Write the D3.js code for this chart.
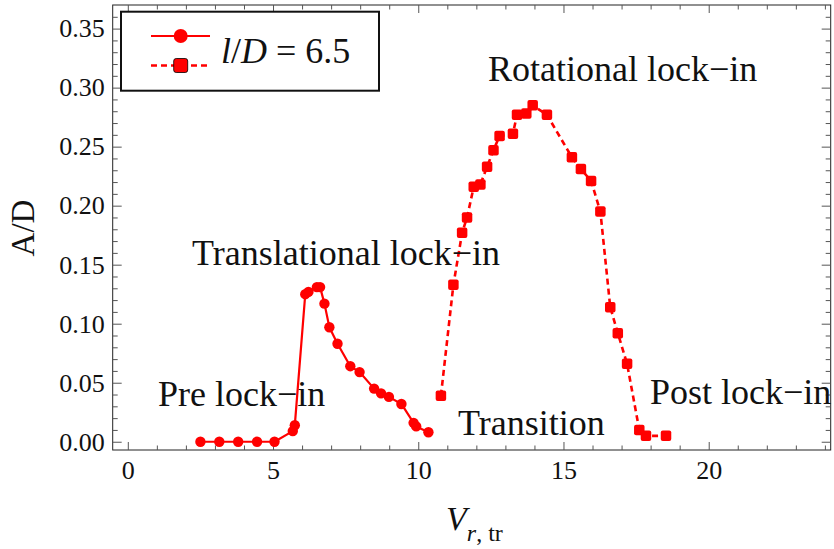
<!DOCTYPE html>
<html>
<head>
<meta charset="utf-8">
<script src="https://cdn.jsdelivr.net/npm/d3@7"></script>
<style>
  html, body { margin: 0; padding: 0; background: #fff; }
  svg { display: block; font-family: "Liberation Serif", "Times New Roman", serif; }
</style>
</head>
<body>
<svg id="chart" width="834" height="549"></svg>
<script>
// Amplitude response A/D versus reduced velocity, l/D = 6.5
// Translational branch (solid, circles)
const transX = [2.5, 3.15, 3.8, 4.45, 5.05, 5.68, 5.75, 6.11, 6.22, 6.51, 6.62, 6.77, 6.94,
                7.22, 7.66, 7.98, 8.48, 8.72, 8.99, 9.42, 9.84, 9.93, 10.35];
const transY = [0.0, 0.0, 0.0, 0.0, 0.0, 0.009, 0.014, 0.125, 0.127, 0.131, 0.131, 0.117, 0.097,
                0.083, 0.064, 0.059, 0.045, 0.041, 0.038, 0.032, 0.016, 0.013, 0.008];
// Rotational branch (dashed, squares)
const rotX = [10.78, 11.21, 11.51, 11.68, 11.91, 12.14, 12.37, 12.59, 12.80, 13.26, 13.40, 13.72,
              13.94, 14.43, 15.29, 15.60, 15.95, 16.27, 16.61, 16.87, 17.19, 17.61, 17.84, 18.53];
const rotY = [0.039, 0.133, 0.177, 0.190, 0.216, 0.218, 0.233, 0.247, 0.259, 0.261, 0.277, 0.278,
              0.285, 0.277, 0.241, 0.231, 0.221, 0.195, 0.114, 0.092, 0.066, 0.010, 0.005, 0.005];

const xTicks = [0, 5, 10, 15, 20];
const yTicks = [0.00, 0.05, 0.10, 0.15, 0.20, 0.25, 0.30, 0.35];
const regimeLabels = [
  { text: "Pre lock\u2212in", x: 158, y: 406 },
  { text: "Translational lock\u2212in", x: 192, y: 265 },
  { text: "Rotational lock\u2212in", x: 488, y: 81 },
  { text: "Transition", x: 458, y: 435 },
  { text: "Post lock\u2212in", x: 650, y: 404 }
];

const svg = d3.select("#chart");
const plotLeft = 112.7, plotRight = 830.7, plotTop = 5, plotBottom = 450;

const x = d3.scaleLinear().domain([-0.52, 24.2]).range([plotLeft, plotRight]);
const y = d3.scaleLinear().domain([-0.007, 0.37]).range([plotBottom, plotTop]);

const red = "#ff0000";
const tickColor = "#555";

// Frame
svg.append("rect")
  .attr("x", plotLeft).attr("y", plotTop)
  .attr("width", plotRight - plotLeft).attr("height", plotBottom - plotTop)
  .attr("fill", "none").attr("stroke", "#222").attr("stroke-width", 1);

const xMinor = d3.range(0, 25, 1).filter(v => !xTicks.includes(v));
const yMinor = d3.range(0, 37, 1).map(v => v / 100).filter(v => !yTicks.some(t => Math.abs(t - v) < 1e-9));

function styleAxis(g) {
  g.select(".domain").remove();
  g.selectAll(".tick line").attr("stroke", tickColor).attr("stroke-width", 1);
  g.selectAll(".tick text").attr("font-size", 26).attr("fill", "#111")
    .attr("font-family", "Liberation Serif, Times New Roman, serif");
}

// Bottom axis (labelled) and minor ticks
svg.append("g").attr("transform", `translate(0,${plotBottom})`)
  .call(d3.axisBottom(x).tickValues(xTicks).tickSize(-8).tickPadding(11).tickFormat(d3.format("d")))
  .call(styleAxis);
svg.append("g").attr("transform", `translate(0,${plotBottom})`)
  .call(d3.axisBottom(x).tickValues(xMinor).tickSize(-4.5).tickFormat(""))
  .call(styleAxis);
// Top mirrored ticks
svg.append("g").attr("transform", `translate(0,${plotTop})`)
  .call(d3.axisTop(x).tickValues(xTicks).tickSize(-8).tickFormat(""))
  .call(styleAxis);
svg.append("g").attr("transform", `translate(0,${plotTop})`)
  .call(d3.axisTop(x).tickValues(xMinor).tickSize(-4.5).tickFormat(""))
  .call(styleAxis);

// Left axis (labelled) and minor ticks
svg.append("g").attr("transform", `translate(${plotLeft},0)`)
  .call(d3.axisLeft(y).tickValues(yTicks).tickSize(-9).tickPadding(8).tickFormat(d3.format(".2f")))
  .call(styleAxis);
svg.append("g").attr("transform", `translate(${plotLeft},0)`)
  .call(d3.axisLeft(y).tickValues(yMinor).tickSize(-5).tickFormat(""))
  .call(styleAxis);
// Right mirrored ticks
svg.append("g").attr("transform", `translate(${plotRight},0)`)
  .call(d3.axisRight(y).tickValues(yTicks).tickSize(-9).tickFormat(""))
  .call(styleAxis);
svg.append("g").attr("transform", `translate(${plotRight},0)`)
  .call(d3.axisRight(y).tickValues(yMinor).tickSize(-5).tickFormat(""))
  .call(styleAxis);

// Axis titles
svg.append("text")
  .attr("transform", "translate(34,228) rotate(-90)")
  .attr("text-anchor", "middle")
  .attr("font-size", 33).attr("fill", "#111")
  .text("A/D");

const xTitle = svg.append("text")
  .attr("x", 446).attr("y", 530)
  .attr("font-size", 34).attr("fill", "#111");
xTitle.append("tspan").attr("font-style", "italic").text("V");
xTitle.append("tspan").attr("font-size", 24).attr("dy", 11).attr("font-style", "italic").text("r");
xTitle.append("tspan").attr("font-size", 24).text(", tr");

// Data series
const transData = transX.map((v, i) => [v, transY[i]]);
const rotData = rotX.map((v, i) => [v, rotY[i]]);
const line = d3.line().x(d => x(d[0])).y(d => y(d[1]));

svg.append("path").datum(transData)
  .attr("d", line).attr("fill", "none")
  .attr("stroke", red).attr("stroke-width", 2.2).attr("stroke-linejoin", "round");

svg.append("path").datum(rotData)
  .attr("d", line).attr("fill", "none")
  .attr("stroke", red).attr("stroke-width", 2.6).attr("stroke-dasharray", "6,4");

svg.append("g").selectAll("circle").data(transData).join("circle")
  .attr("cx", d => x(d[0])).attr("cy", d => y(d[1])).attr("r", 5.2)
  .attr("fill", red);

const sq = 10.5;
svg.append("g").selectAll("rect").data(rotData).join("rect")
  .attr("x", d => x(d[0]) - sq / 2).attr("y", d => y(d[1]) - sq / 2)
  .attr("width", sq).attr("height", sq).attr("rx", 2)
  .attr("fill", red);

// Regime annotations
svg.append("g").selectAll("text").data(regimeLabels).join("text")
  .attr("x", d => d.x).attr("y", d => d.y)
  .attr("font-size", 36).attr("fill", "#111")
  .text(d => d.text);

// Legend
const lg = svg.append("g");
lg.append("rect")
  .attr("x", 121).attr("y", 11.7).attr("width", 258).attr("height", 79)
  .attr("fill", "#fff").attr("stroke", "#111").attr("stroke-width", 2);
lg.append("line").attr("x1", 151).attr("x2", 210).attr("y1", 36).attr("y2", 36)
  .attr("stroke", red).attr("stroke-width", 2.2);
lg.append("circle").attr("cx", 180.7).attr("cy", 36).attr("r", 7).attr("fill", red);
lg.append("line").attr("x1", 151).attr("x2", 210).attr("y1", 65.5).attr("y2", 65.5)
  .attr("stroke", red).attr("stroke-width", 2.6).attr("stroke-dasharray", "6,4");
lg.append("rect").attr("x", 173.7).attr("y", 58.5).attr("width", 14).attr("height", 14)
  .attr("rx", 2.5).attr("fill", red).attr("stroke", "#000").attr("stroke-width", 0.8);
const lt = lg.append("text").attr("x", 221).attr("y", 63).attr("font-size", 36).attr("fill", "#111");
lt.append("tspan").attr("font-style", "italic").text("l");
lt.append("tspan").text("/");
lt.append("tspan").attr("font-style", "italic").text("D");
lt.append("tspan").text(" = 6.5");
</script>
</body>
</html>
